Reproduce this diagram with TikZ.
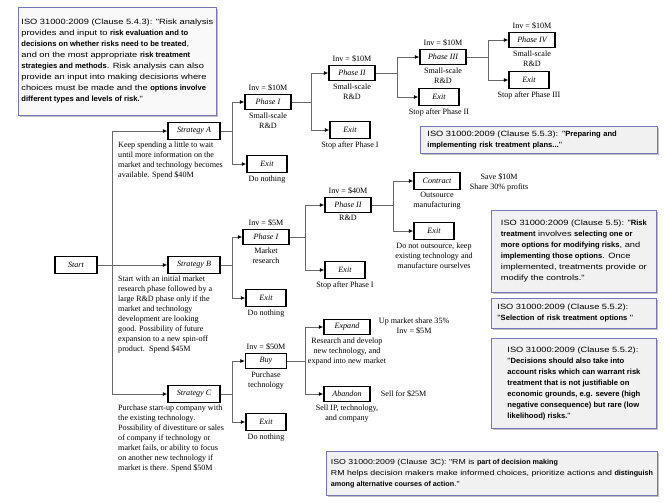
\documentclass[tikz,border=0pt]{standalone}
\usepackage{fontspec}
\setmainfont{Liberation Serif}
\setsansfont{Liberation Sans}
\newfontfamily\isoplain{Liberation Sans}[FakeStretch=1.22]
\usepackage{tikz}
\usetikzlibrary{positioning, arrows.meta, shadows}

\definecolor{isoline}{RGB}{118,118,184}
\definecolor{isofill}{RGB}{241,241,241}
\definecolor{wire}{RGB}{105,105,105}

\newcommand{\treefont}{\fontsize{8.1}{10}\selectfont}
\newcommand{\isofont}{\isoplain\fontsize{7.6}{11}\selectfont}
\newcommand{\hl}[1]{{\sffamily\bfseries #1}}

\tikzstyle{choice}   = [rectangle, draw=black, line width=1.4pt, fill=white, inner sep=1pt, font=\treefont\itshape]
\tikzstyle{stratbox} = [choice, minimum width=52pt, minimum height=17pt]
\tikzstyle{phase}    = [choice, minimum width=46pt, minimum height=15pt]
\tikzstyle{exitbox}  = [choice, minimum width=40pt, minimum height=17pt]
\tikzstyle{note}     = [align=center, font=\treefont, inner sep=1pt]
\tikzstyle{desc}     = [align=left, anchor=north west, font=\treefont, inner sep=0pt]
\tikzstyle{iso}      = [rectangle, draw=isoline, line width=0.9pt, fill=isofill, anchor=north west, align=left, font=\isofont, inner xsep=3pt, inner ysep=2pt, drop shadow={shadow xshift=1.3pt, shadow yshift=-1.6pt, fill=black!50}]
\tikzstyle{arrow}    = [draw=wire, line width=0.8pt, -{Latex[length=4.5pt, width=4pt, black]}]

\begin{document}
\begin{tikzpicture}[x=1pt, y=-1pt]
    \useasboundingbox (0,0) rectangle (665,502);

    % decision boxes
    \node (start)  [stratbox, minimum width=42pt] at (76,265)  {Start};
    \node (stratA) [stratbox] at (194,131) {Strategy A};
    \node (stratB) [stratbox] at (194,265) {Strategy B};
    \node (stratC) [stratbox] at (194,394) {Strategy C};

    \node (aP1)  [phase]   at (268,102) {Phase I};
    \node (aEx)  [exitbox] at (267,164) {Exit};
    \node (aP2)  [phase]   at (352,73)  {Phase II};
    \node (aEx1) [exitbox] at (350,130) {Exit};
    \node (aP3)  [phase]   at (443,57)  {Phase III};
    \node (aEx2) [exitbox] at (439,97)  {Exit};
    \node (aP4)  [phase]   at (532,40)  {Phase IV};
    \node (aEx3) [exitbox] at (529,80)  {Exit};

    \node (bP1)  [phase]   at (266,237) {Phase I};
    \node (bEx)  [exitbox] at (266,298) {Exit};
    \node (bP2)  [phase]   at (348,205) {Phase II};
    \node (bEx1) [exitbox] at (345,270) {Exit};
    \node (bCon) [phase, minimum height=17pt] at (437,181) {Contract};
    \node (bEx2) [exitbox] at (434,231) {Exit};

    \node (cBuy) [phase, minimum width=41pt] at (266,361) {Buy};
    \node (cEx)  [exitbox] at (266,422) {Exit};
    \node (cExp) [phase]   at (347,327) {Expand};
    \node (cAb)  [phase]   at (347,394) {Abandon};

    % labels
    \node (aP1inv)  [note, above=1pt of aP1] {Inv = \$10M};
    \node (aP1txt)  [note, below=1pt of aP1] {Small-scale\\R\&D};
    \node (aExtxt)  [note, below=1pt of aEx] {Do nothing};
    \node (aP2inv)  [note, above=1pt of aP2] {Inv = \$10M};
    \node (aP2txt)  [note, below=1pt of aP2] {Small-scale\\R\&D};
    \node (aEx1txt) [note, below=1pt of aEx1] {Stop after Phase I};
    \node (aP3inv)  [note, above=1pt of aP3] {Inv = \$10M};
    \node (aP3txt)  [note, below=1pt of aP3] {Small-scale\\R\&D};
    \node (aEx2txt) [note, below=1pt of aEx2] {Stop after Phase II};
    \node (aP4inv)  [note, above=1pt of aP4] {Inv = \$10M};
    \node (aP4txt)  [note, below=1pt of aP4] {Small-scale\\R\&D};
    \node (aEx3txt) [note, below=1pt of aEx3] {Stop after Phase III};

    \node (bP1inv)  [note, above=1pt of bP1] {Inv = \$5M};
    \node (bP1txt)  [note, below=1pt of bP1] {Market\\research};
    \node (bExtxt)  [note, below=1pt of bEx] {Do nothing};
    \node (bP2inv)  [note, above=1pt of bP2] {Inv = \$40M};
    \node (bP2txt)  [note, below=1pt of bP2] {R\&D};
    \node (bEx1txt) [note, below=1pt of bEx1] {Stop after Phase I};
    \node (bContxt) [note, below=1pt of bCon] {Outsource\\manufacturing};
    \node (bConsav) [note, right=8pt of bCon, yshift=-1pt] {Save \$10M\\Share 30\% profits};
    \node (bEx2txt) [note, below=1pt of bEx2] {Do not outsource, keep\\existing technology and\\manufacture ourselves};

    \node (cBuyinv) [note, above=1pt of cBuy] {Inv = \$50M};
    \node (cBuytxt) [note, below=1pt of cBuy] {Purchase\\technology};
    \node (cExtxt)  [note, below=1pt of cEx] {Do nothing};
    \node (cExptxt) [note, below=1pt of cExp] {Research and develop\\new technology, and\\expand into new market};
    \node (cExpup)  [note, right=7pt of cExp, yshift=1pt] {Up market share 35\%\\Inv = \$5M};
    \node (cAbtxt)  [note, below=1pt of cAb] {Sell IP, technology,\\and company};
    \node (cAbsell) [note, right=9pt of cAb] {Sell for \$25M};

    % strategy descriptions
    \node (descA) [desc] at (118,142) {Keep spending a little to wait\\until more information on the\\market and technology becomes\\available. Spend \$40M};
    \node (descB) [desc] at (118,276) {Start with an initial market\\research phase followed by a\\large R\&D phase only if the\\market and technology\\development are looking\\good. Possibility of future\\expansion to a new spin-off\\product.\ \ Spend \$45M};
    \node (descC) [desc] at (118,405) {Purchase start-up company with\\the existing technology.\\Possibility of divestiture or sales\\of company if technology or\\market fails, or ability to focus\\on another new technology if\\market is there. Spend \$50M};

    % connectors
    \coordinate (trunk) at (112,265);
    \coordinate (sA)  at (232,131);
    \coordinate (sA1) at (311,102);
    \coordinate (sA2) at (397,73);
    \coordinate (sA3) at (488,57);
    \coordinate (sB)  at (232,265);
    \coordinate (sB1) at (305,237);
    \coordinate (sB2) at (393,205);
    \coordinate (sC)  at (232,394);
    \coordinate (sC1) at (305,361);

    \draw [arrow] (start) -- (trunk) |- (stratA);
    \draw [arrow] (trunk) -- (stratB);
    \draw [arrow] (trunk) |- (stratC);

    \draw [arrow] (stratA) -- (sA) |- (aP1);
    \draw [arrow] (sA) |- (aEx);
    \draw [arrow] (aP1) -- (sA1) |- (aP2);
    \draw [arrow] (sA1) |- (aEx1);
    \draw [arrow] (aP2) -- (sA2) |- (aP3);
    \draw [arrow] (sA2) |- (aEx2);
    \draw [arrow] (aP3) -- (sA3) |- (aP4);
    \draw [arrow] (sA3) |- (aEx3);

    \draw [arrow] (stratB) -- (sB) |- (bP1);
    \draw [arrow] (sB) |- (bEx);
    \draw [arrow] (bP1) -- (sB1) |- (bP2);
    \draw [arrow] (sB1) |- (bEx1);
    \draw [arrow] (bP2) -- (sB2) |- (bCon);
    \draw [arrow] (sB2) |- (bEx2);

    \draw [arrow] (stratC) -- (sC) |- (cBuy);
    \draw [arrow] (sC) |- (cEx);
    \draw [arrow] (cBuy) -- (sC1) |- (cExp);
    \draw [arrow] (sC1) |- (cAb);

    % ISO 31000 quotes
    \node (iso1) [iso, fill=isofill!45, minimum width=187pt, minimum height=108pt] at (18,7) {ISO 31000:2009 (Clause 5.4.3): "Risk analysis\\provides and input to \hl{risk evaluation and to}\\\hl{decisions on whether risks need to be treated},\\and on the most appropriate \hl{risk treatment}\\\hl{strategies and methods}. Risk analysis can also\\provide an input into making decisions where\\choices must be made and the \hl{options involve}\\\hl{different types and levels of risk.}"};
    \node (iso2) [iso, inner xsep=7pt, text width=223pt, minimum height=27pt] at (420,126) {ISO 31000:2009 (Clause 5.5.3): "\hl{Preparing and}\\\hl{implementing risk treatment plans...}"};
    \node (iso3) [iso, minimum width=165pt, minimum height=82pt] at (491,210) {ISO 31000:2009 (Clause 5.5): "\hl{Risk}\\\hl{treatment} involves \hl{selecting one or}\\\hl{more options for modifying risks}, and\\\hl{implementing those options}. Once\\implemented, treatments provide or\\modify the controls."};
    \node (iso4) [iso, inner xsep=6pt, text width=153pt, minimum height=30pt] at (491,298) {ISO 31000:2009 (Clause 5.5.2):\\"\hl{Selection of risk treatment options} "};
    \node (iso5) [iso, minimum width=165pt, minimum height=90pt] at (491,338) {ISO 31000:2009 (Clause 5.5.2):\\"\hl{Decisions should also take into}\\\hl{account risks which can warrant risk}\\\hl{treatment that is not justifiable on}\\\hl{economic grounds, e.g. severe (high}\\\hl{negative consequence) but rare (low}\\\hl{likelihood) risks.}"};
    \node (iso6) [iso, font=\isoplain\fontsize{7.2}{11}\selectfont, minimum width=331pt, minimum height=44pt] at (326,451) {ISO 31000:2009 (Clause 3C): "RM is \hl{part of decision making}\\RM helps decision makers make informed choices, prioritize actions and \hl{distinguish}\\\hl{among alternative courses of action}."};

\end{tikzpicture}
\end{document}
